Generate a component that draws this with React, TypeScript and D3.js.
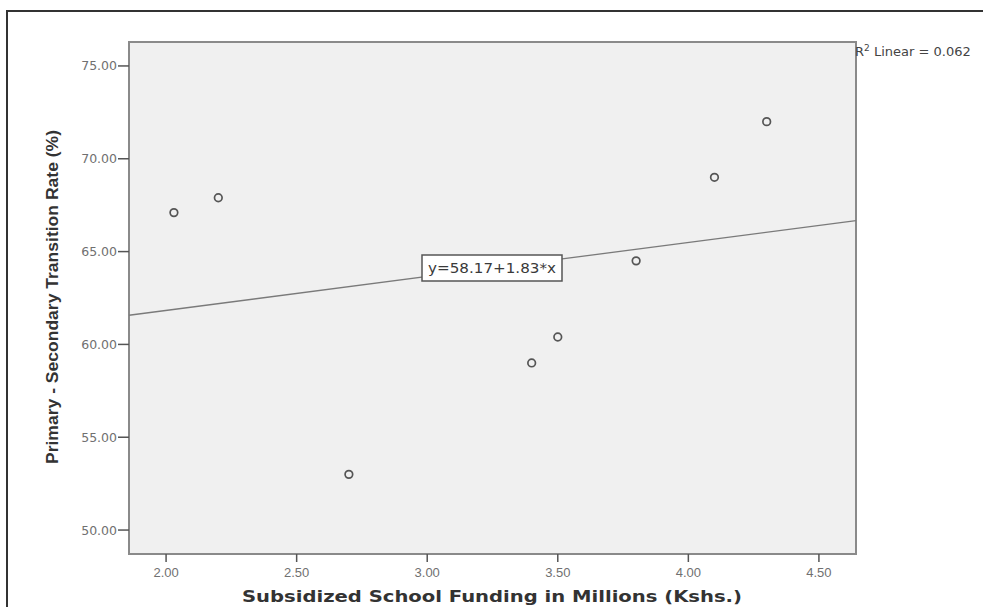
import React from "react";
import * as d3 from "d3";

const fundingX = [2.03, 2.2, 2.7, 3.4, 3.5, 3.8, 4.1, 4.3];
const transitionY = [67.1, 67.9, 53.0, 59.0, 60.4, 64.5, 69.0, 72.0];
const xTicks = [2.0, 2.5, 3.0, 3.5, 4.0, 4.5];
const yTicks = [50, 55, 60, 65, 70, 75];
const intercept = 58.17;
const slope = 1.83;
const equationLabel = "y=58.17+1.83*x";
const r2Label = "0.062";
const xTitle = "Subsidized School Funding in Millions (Kshs.)";
const yTitle = "Primary - Secondary Transition Rate (%)";

export default function App() {
  const W = 983, H = 607;
  const left = 129, right = 856, top = 42, bottom = 554;
  const x = d3.scaleLinear().domain([1.858, 4.642]).range([left, right]);
  const y = d3.scaleLinear().domain([48.71, 76.29]).range([bottom, top]);
  const line = d3.line<number>().x((d) => x(d)).y((d) => y(intercept + slope * d));
  const xd = x.domain();
  const eqX = 492, eqY = 268;
  return (
    <svg width={W} height={H} style={{ position: "absolute", left: 0, top: 0, background: "#fff" }}>
      {/* outer frame */}
      <path d={`M7,${H} V11 H${W}`} fill="none" stroke="#333" strokeWidth={2} />
      {/* plot area */}
      <rect x={left} y={top} width={right - left} height={bottom - top} fill="#f0f0f0" stroke="#8a8a8a" strokeWidth={2} />
      {/* regression line */}
      <path d={line(xd) || ""} fill="none" stroke="#7a7a7a" strokeWidth={1.3} />
      {/* points */}
      {fundingX.map((v, i) => (
        <circle key={i} cx={x(v)} cy={y(transitionY[i])} r={3.8} fill="none" stroke="#555" strokeWidth={1.7} />
      ))}
      {/* y axis ticks */}
      {yTicks.map((t) => (
        <g key={t}>
          <line x1={left - 11} x2={left} y1={y(t)} y2={y(t)} stroke="#555" strokeWidth={1.5} />
          <text x={left - 12} y={y(t)} dy="0.36em" textAnchor="end" fontFamily="DejaVu Sans" fontSize={12.5} fill="#707070">
            {d3.format(".2f")(t)}
          </text>
        </g>
      ))}
      {/* x axis ticks */}
      {xTicks.map((t) => (
        <g key={t}>
          <line x1={x(t)} x2={x(t)} y1={bottom} y2={bottom + 8} stroke="#555" strokeWidth={1.5} />
          <text x={x(t)} y={bottom + 23} textAnchor="middle" fontFamily="Liberation Sans" fontSize={13} fill="#707070">
            {d3.format(".2f")(t)}
          </text>
        </g>
      ))}
      {/* equation label */}
      <rect x={eqX - 70} y={eqY - 13} width={140} height={26} fill="#fff" stroke="#555" strokeWidth={1.5} />
      <text x={eqX} y={eqY} dy="0.36em" textAnchor="middle" fontFamily="DejaVu Sans" fontSize={14} fill="#3a3a3a" textLength={128} lengthAdjust="spacingAndGlyphs">
        {equationLabel}
      </text>
      {/* R2 label */}
      <text x={right - 1} y={56} fontFamily="DejaVu Sans" fontSize={13} fill="#444">
        R<tspan dy={-5} fontSize={9}>2</tspan><tspan dy={5}>{" Linear = " + r2Label}</tspan>
      </text>
      {/* axis titles */}
      <text x={492} y={602} textAnchor="middle" fontFamily="DejaVu Sans" fontWeight="bold" fontSize={16} fill="#333" textLength={500} lengthAdjust="spacingAndGlyphs">
        {xTitle}
      </text>
      <text transform={`translate(58,297) rotate(-90)`} textAnchor="middle" fontFamily="Liberation Sans" fontWeight="bold" fontSize={17} fill="#333" textLength={334} lengthAdjust="spacingAndGlyphs">
        {yTitle}
      </text>
    </svg>
  );
}
